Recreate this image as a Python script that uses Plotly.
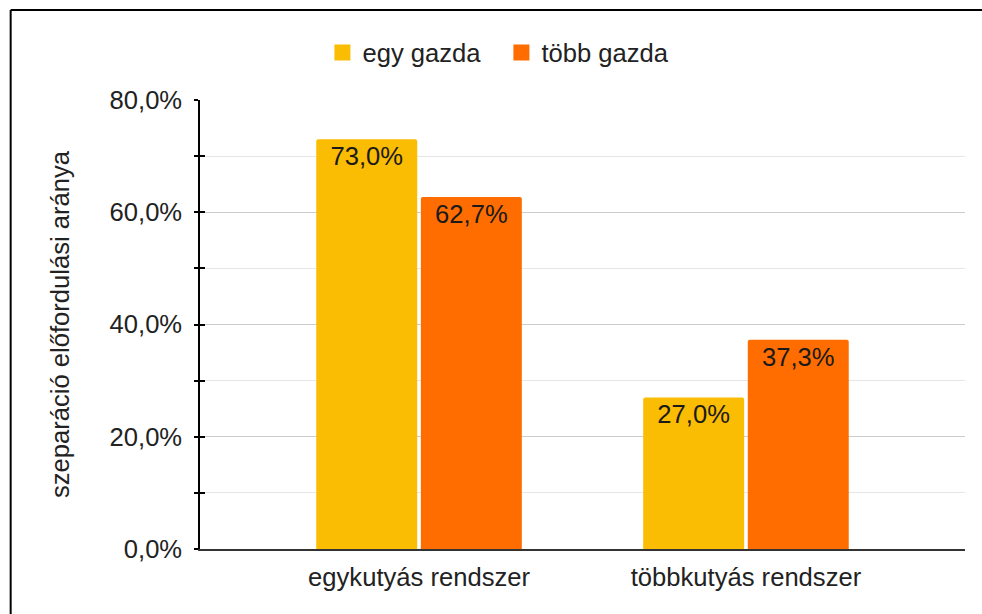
import plotly.graph_objects as go

categories = ["egykutyás rendszer", "többkutyás rendszer"]
series_names = ["egy gazda", "több gazda"]
egy_gazda = [0.730, 0.270]
tobb_gazda = [0.627, 0.373]
colors = ["#FBBC04", "#FF6D01"]

FONT = "Liberation Sans, Arial, sans-serif"
FS = 25.6

fig = go.Figure()
for name, vals, col in zip(series_names, [egy_gazda, tobb_gazda], colors):
    fig.add_trace(go.Bar(
        x=categories, y=vals, name=name, marker=dict(color=col, cornerradius=2, line=dict(width=0)),
        texttemplate="%{y:.1%}", textposition="inside", insidetextanchor="end",
        textfont=dict(family=FONT, size=FS, color="#1a1a1a"), showlegend=False,
        textangle=0, constraintext="none",
    ))
for name, col in zip(series_names, colors):
    fig.add_trace(go.Scatter(
        x=[categories[0]], y=[None], mode="markers", name=name,
        marker=dict(symbol="square", size=19, color=col), showlegend=True,
    ))

fig.update_layout(
    width=982, height=614,
    margin=dict(l=200, r=17, t=100, b=65),
    paper_bgcolor="white", plot_bgcolor="white",
    separators=",.",
    barmode="group", bargap=0.36, bargroupgap=0.035,
    font=dict(family=FONT, size=FS, color="#222222"),
    legend=dict(orientation="h", x=0.394, xanchor="center", y=1.105, yanchor="middle",
                entrywidth=134, entrywidthmode="pixels",
                font=dict(family=FONT, size=FS, color="#222222"), itemsizing="trace"),
    xaxis=dict(range=[-0.67, 1.67], showline=True, linecolor="#333333", linewidth=1.5,
               ticks="", showgrid=False, ticklabelstandoff=5,
               tickfont=dict(family=FONT, size=FS, color="#222222")),
    yaxis=dict(range=[0, 0.8], dtick=0.2, tick0=0, tickformat=".1%",
               showline=True, linecolor="black", linewidth=1.5,
               ticks="outside", ticklen=4, tickcolor="black", tickwidth=1.5,
               ticklabelstandoff=7,
               showgrid=True, gridcolor="#cccccc", gridwidth=1, zeroline=False,
               minor=dict(dtick=0.1, tick0=0, ticks="outside", ticklen=4, tickcolor="black",
                          tickwidth=1.5, showgrid=True, gridcolor="#e6e6e6", gridwidth=1),
               title=dict(text="szeparáció előfordulási aránya", standoff=33,
                          font=dict(family=FONT, size=FS, color="#222222")),
               tickfont=dict(family=FONT, size=FS, color="#222222")),
    yaxis2=dict(range=[0, 0.8], dtick=0.1, tick0=0, overlaying="y", anchor="x", side="left",
                ticks="inside", ticklen=5, tickcolor="black", tickwidth=1.5,
                showticklabels=False, showgrid=False, zeroline=False, showline=False),
    shapes=[
        dict(type="line", xref="paper", yref="paper", x0=-0.2475, x1=1.2, y0=1.2004, y1=1.2004,
             line=dict(color="black", width=2), layer="above"),
        dict(type="line", xref="paper", yref="paper", x0=-0.2475, x1=-0.2475, y0=-0.3, y1=1.2004,
             line=dict(color="black", width=2), layer="above"),
    ],
)
fig.add_trace(go.Scatter(x=[categories[0]], y=[None], yaxis="y2", showlegend=False, hoverinfo="skip"))

fig.write_html("out.html", config={"displayModeBar": False},
               post_script="document.body.style.margin='0';document.body.style.overflow='hidden';")
